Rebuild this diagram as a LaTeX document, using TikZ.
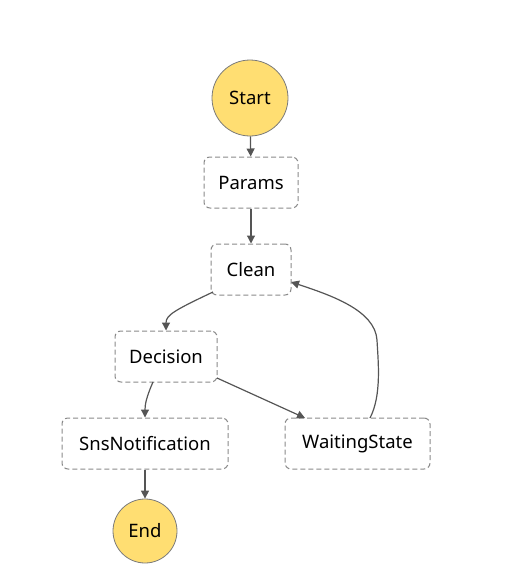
\documentclass[tikz,border=0pt]{standalone}
\usepackage{fontspec}
\setmainfont{Noto Sans}
\usetikzlibrary{arrows.meta}
\definecolor{termfill}{HTML}{FFDE72}
\definecolor{termdraw}{HTML}{7A7A7A}
\definecolor{boxdraw}{HTML}{8A8A8A}
\definecolor{edgecol}{HTML}{555555}
\tikzset{
  term/.style={circle, fill=termfill, draw=termdraw, line width=0.8pt, inner sep=0pt, font=\fontsize{18.5}{22}\selectfont},
  state/.style={rectangle, rounded corners=6pt, draw=boxdraw, dash pattern=on 5pt off 3pt, line width=1pt, fill=white, inner sep=0pt, font=\fontsize{18.5}{22}\selectfont},
  edge/.style={draw=edgecol, line width=1.2pt, -{Triangle[width=8pt,length=8pt]}}
}
\begin{document}
\begin{tikzpicture}[x=1pt,y=-1pt]
\useasboundingbox (0,0) rectangle (512,568);
\node[term, minimum size=76pt] (start) at (250,98) {Start};
\node[state, minimum width=94pt, minimum height=51pt] (params) at (251,182.5) {Params};
\node[state, minimum width=80pt, minimum height=51pt] (clean) at (251,269.5) {Clean};
\node[state, minimum width=102pt, minimum height=51pt] (decision) at (166,356.5) {Decision};
\node[state, minimum width=166pt, minimum height=51pt] (sns) at (145,443.5) {SnsNotification};
\node[state, minimum width=145pt, minimum height=51pt] (wait) at (357.5,443.5) {WaitingState};
\node[term, minimum size=64pt] (end) at (145,531) {End};
\coordinate (cleanbl) at (213,292);
\coordinate (cleanr) at (291,282);
\coordinate (decbr) at (217,378);
\coordinate (decb) at (153,382);
\coordinate (waittop) at (370,418);
\draw[edge] (start) -- (params);
\draw[edge] (params) -- (clean);
\draw[edge] (cleanbl) .. controls (175,310) and (166,315) .. (decision.north);
\draw[edge] (decb) .. controls (146,398) and (145,405) .. (sns.north);
\draw[edge] (decbr) -- (305,418);
\draw[edge] (waittop) .. controls (382,395) and (378,360) .. (377,340) .. controls (375,310) and (330,295) .. (cleanr);
\draw[edge] (sns) -- (end);
\end{tikzpicture}
\end{document}
